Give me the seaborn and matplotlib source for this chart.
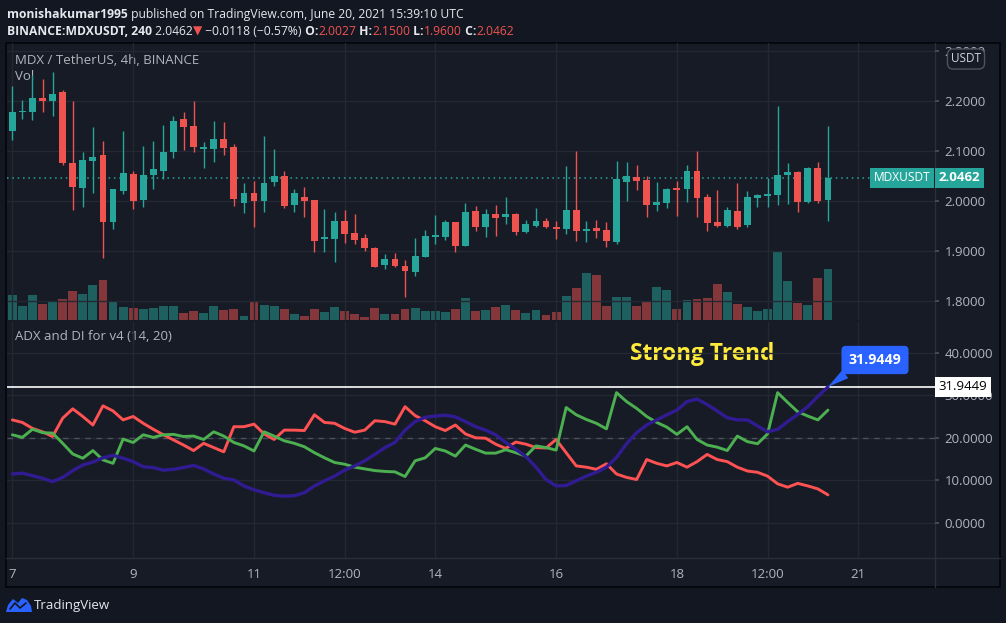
import matplotlib
matplotlib.use("Agg")
import matplotlib.pyplot as plt
from matplotlib.patches import Rectangle, Polygon
import numpy as np
import seaborn as sns

# MDX/USDT 4h candles, starting Jun 7 00:00 UTC
opens = [2.140, 2.177, 2.178, 2.206, 2.200, 2.218, 2.076, 2.026, 2.080, 2.092,
         1.958, 2.020, 2.054, 2.002, 2.052, 2.060, 2.098, 2.164, 2.150, 2.104,
         2.104, 2.124, 2.108, 1.996, 2.016, 2.000, 2.038, 2.050, 1.992, 2.008,
         2.002, 1.924, 1.924, 1.960, 1.936, 1.926, 1.906, 1.872, 1.884, 1.870,
         1.858, 1.888, 1.928, 1.928, 1.958, 1.910, 1.980, 1.948, 1.974, 1.968,
         1.974, 1.938, 1.950, 1.960, 1.948, 1.944, 1.982, 1.940, 1.946, 1.942,
         1.918, 2.038, 2.048, 2.042, 1.992, 1.996, 2.026, 2.024, 2.060, 2.008,
         1.958, 1.950, 1.980, 1.952, 2.006, 2.010, 2.012, 2.052, 2.058, 1.998,
         2.066, 2.0027]
highs = [2.230, 2.202, 2.252, 2.244, 2.259, 2.222, 2.200, 2.098, 2.148, 2.120,
         2.024, 2.140, 2.060, 2.110, 2.120, 2.152, 2.170, 2.178, 2.200, 2.118,
         2.160, 2.158, 2.114, 2.036, 2.040, 2.130, 2.104, 2.060, 2.024, 2.028,
         2.002, 1.984, 1.978, 1.982, 1.974, 1.934, 1.908, 1.894, 1.896, 1.882,
         1.926, 1.942, 1.972, 1.962, 1.958, 1.996, 1.990, 1.984, 1.992, 2.008,
         1.976, 1.962, 1.986, 1.966, 1.960, 2.070, 2.100, 1.960, 1.962, 1.958,
         2.080, 2.078, 2.072, 2.050, 2.038, 2.026, 2.040, 2.072, 2.100, 2.014,
         2.022, 1.988, 2.036, 2.020, 2.014, 2.046, 2.190, 2.076, 2.060, 2.068,
         2.078, 2.150]
lows = [2.122, 2.164, 2.162, 2.178, 2.170, 2.072, 1.982, 1.988, 2.016, 1.886,
        1.944, 2.014, 1.984, 1.988, 2.024, 2.044, 2.086, 2.102, 2.098, 2.066,
        2.078, 2.092, 1.990, 1.976, 1.948, 1.978, 2.030, 1.986, 1.978, 1.968,
        1.898, 1.898, 1.878, 1.916, 1.914, 1.900, 1.868, 1.864, 1.868, 1.808,
        1.850, 1.888, 1.914, 1.922, 1.898, 1.910, 1.940, 1.928, 1.930, 1.954,
        1.932, 1.936, 1.948, 1.946, 1.924, 1.934, 1.920, 1.918, 1.926, 1.908,
        1.914, 2.000, 2.022, 1.968, 1.980, 1.986, 1.970, 1.998, 1.968, 1.940,
        1.948, 1.948, 1.944, 1.948, 1.988, 1.988, 1.992, 1.994, 1.978, 1.996,
        1.996, 1.960]
closes = [2.178, 2.178, 2.206, 2.200, 2.214, 2.076, 2.028, 2.082, 2.088, 1.958,
          2.024, 2.056, 2.000, 2.052, 2.064, 2.098, 2.160, 2.148, 2.108, 2.106,
          2.124, 2.106, 2.004, 2.016, 2.000, 2.036, 2.050, 1.990, 2.016, 2.000,
          1.920, 1.926, 1.960, 1.934, 1.922, 1.906, 1.868, 1.884, 1.870, 1.860,
          1.890, 1.930, 1.932, 1.958, 1.910, 1.978, 1.948, 1.974, 1.966, 1.974,
          1.938, 1.954, 1.960, 1.948, 1.944, 1.982, 1.940, 1.944, 1.940, 1.920,
          2.044, 2.050, 2.040, 1.992, 1.998, 2.024, 2.022, 2.060, 2.006, 1.956,
          1.950, 1.982, 1.948, 2.008, 2.012, 2.014, 2.052, 2.058, 1.998, 2.066,
          2.000, 2.0462]
volumes = [76, 43, 76, 49, 58, 64, 88, 79, 106, 121, 58, 40, 37, 34, 37, 43,
           43, 22, 28, 22, 43, 31, 34, 13, 58, 46, 43, 34, 19, 13, 34, 25,
           40, 28, 19, 10, 37, 19, 19, 34, 37, 28, 28, 25, 34, 67, 28, 31,
           40, 46, 31, 22, 31, 16, 25, 73, 97, 142, 136, 43, 70, 70, 43, 55,
           100, 91, 34, 61, 64, 67, 109, 85, 49, 40, 28, 34, 208, 118, 52, 46,
           127, 154]

# ADX and DI (14, 20)
plus_di = [20.7, 20.1, 22.0, 21.2, 21.1, 18.7, 16.2, 15.2, 17.0, 14.8, 14.0, 19.7,
           18.9, 20.7, 20.1, 20.7, 20.8, 20.3, 20.4, 19.6, 21.4, 20.4, 18.9, 18.1,
           16.9, 21.4, 20.4, 19.3, 18.7, 17.9, 16.5, 15.3, 14.2, 13.8, 13.1, 12.7,
           12.3, 12.1, 12.0, 10.9, 14.6, 15.3, 17.5, 16.9, 15.7, 18.3, 17.3, 16.4,
           16.4, 17.2, 16.5, 15.7, 18.1, 17.7, 17.1, 27.1, 25.4, 24.3, 23.4, 22.1,
           30.6, 28.5, 26.9, 25.0, 23.6, 22.5, 20.8, 22.6, 19.6, 18.3, 17.8, 17.0,
           20.4, 19.1, 18.6, 20.9, 30.6, 28.3, 26.1, 25.1, 24.2, 26.5]
minus_di = [24.2, 23.6, 22.2, 21.4, 20.3, 24.6, 26.8, 25.0, 23.0, 27.5, 26.3, 24.2,
            25.0, 23.4, 22.0, 20.7, 19.5, 18.3, 17.0, 18.7, 17.7, 16.7, 22.6, 22.6,
            23.2, 20.9, 19.6, 21.8, 21.8, 21.7, 25.4, 23.6, 23.4, 22.2, 21.3, 21.8,
            24.0, 23.8, 23.2, 27.3, 25.2, 24.0, 22.6, 21.7, 23.0, 20.9, 20.0, 19.9,
            18.5, 17.5, 19.0, 18.5, 17.7, 17.6, 19.6, 16.5, 13.4, 13.1, 12.6, 13.9,
            11.5, 10.7, 10.2, 14.9, 14.0, 13.4, 14.2, 13.1, 14.4, 16.1, 14.9, 14.4,
            13.1, 12.2, 11.9, 11.0, 9.2, 8.4, 9.3, 8.7, 8.0, 6.6]
adx = [11.5, 11.7, 11.1, 10.5, 9.7, 10.7, 12.3, 13.6, 14.3, 15.3, 15.9, 15.2,
       14.4, 13.2, 13.0, 12.4, 12.6, 13.0, 13.5, 12.7, 11.5, 10.5, 10.1, 8.7,
       7.8, 7.1, 6.5, 6.3, 6.4, 7.1, 8.7, 9.9, 11.0, 12.4, 13.4, 14.6,
       16.1, 17.7, 18.9, 21.8, 23.8, 24.8, 25.1, 25.3, 24.9, 23.8, 22.6, 21.8,
       20.7, 18.9, 17.3, 15.6, 13.1, 10.2, 8.7, 8.8, 9.9, 11.0, 11.9, 13.1,
       15.4, 18.6, 21.2, 23.0, 24.2, 25.4, 26.5, 28.5, 29.1, 27.8, 26.3, 24.7,
       24.2, 24.2, 22.8, 21.4, 22.0, 23.8, 25.5, 27.3, 29.7, 31.9449]

time_ticks = [0, 12, 24, 33, 42, 54, 66, 75, 84]
time_labels = ["7", "9", "11", "12:00", "14", "16", "18", "12:00", "21"]
price_ticks = [1.8, 1.9, 2.0, 2.1, 2.2, 2.3]
adx_ticks = [0, 10, 20, 30, 40]
last_price = 2.0462
adx_level = 31.9449

BG = "#131722"
PANEL = "#171b26"
GRID = "#242833"
TXT = "#b2b5be"
UP = "#26a69a"
DOWN = "#ef5350"

sns.set_theme(style="dark", rc={"axes.facecolor": "none", "figure.facecolor": BG})
plt.rcParams["font.family"] = ["Open Sans", "DejaVu Sans"]

W, H = 1006, 623
fig = plt.figure(figsize=(W / 100, H / 100), dpi=100, facecolor=BG)


def frac(x0, y_top, x1, y_bot):
    return [x0 / W, 1 - y_bot / H, (x1 - x0) / W, (y_bot - y_top) / H]


# background in pixel coordinates
ax_bg = fig.add_axes([0, 0, 1, 1], zorder=0)
ax_bg.set_xlim(0, W)
ax_bg.set_ylim(H, 0)
ax_bg.axis("off")
ax_bg.add_patch(Rectangle((6, 42.5), 994, 544, fc=PANEL, ec="#05070b", lw=1.3))
ax_bg.plot([935, 935], [42.5, 586.5], color="#2a2e39", lw=1)
ax_bg.plot([6, 1000], [558, 558], color="#2a2e39", lw=1)

x = np.arange(len(opens))
o = np.array(opens)
c = np.array(closes)
colors = np.where(c >= o, UP, DOWN)
xlim = (-0.53, 91.63)

# volume pane (behind candles)
ax_v = fig.add_axes(frac(7, 43, 935, 320), zorder=1)
ax_v.bar(x, volumes, width=0.88, color=colors, alpha=0.5, linewidth=0)
ax_v.set_xlim(*xlim)
ax_v.set_ylim(0, 208 * 277 / 69.3)
ax_v.axis("off")

# price pane
ax_p = fig.add_axes(frac(7, 43, 935, 320), zorder=2)
ax_p.set_facecolor("none")
for t in time_ticks:
    ax_p.axvline(t, color=GRID, lw=1, zorder=0)
for p in price_ticks:
    ax_p.axhline(p, color=GRID, lw=1, zorder=0)
ax_p.vlines(x, lows, highs, colors=colors, lw=1, zorder=2)
ax_p.bar(x, np.maximum(np.abs(c - o), 0.003), bottom=np.minimum(o, c),
         width=0.68, color=colors, linewidth=0, zorder=3)
ax_p.axhline(last_price, color=UP, lw=1.1, ls=(0, (1, 2.5)), zorder=1)
ax_p.set_xlim(*xlim)
ax_p.set_ylim(1.762, 2.316)
ax_p.yaxis.tick_right()
ax_p.set_yticks(price_ticks)
ax_p.set_yticklabels([f"{p:.4f}" for p in price_ticks])
ax_p.tick_params(axis="y", length=3, pad=4, color="#4a4e59", labelcolor=TXT, labelsize=9.5)
ax_p.set_xticks([])
for s in ax_p.spines.values():
    s.set_visible(False)

ax_p.annotate(f"{last_price:.4f}", xy=(1, last_price), xycoords=("axes fraction", "data"),
              xytext=(2.5, 0), textcoords="offset points", ha="left", va="center",
              color="white", fontsize=9.5, fontweight="bold", annotation_clip=False,
              bbox=dict(boxstyle="square,pad=0.28", fc=UP, ec="none"))
ax_p.annotate("MDXUSDT", xy=(1, last_price), xycoords=("axes fraction", "data"),
              xytext=(-3.5, 0), textcoords="offset points", ha="right", va="center",
              color="white", fontsize=8.6, annotation_clip=False,
              bbox=dict(boxstyle="square,pad=0.3", fc=UP, ec="none"))

# ADX pane
ax_a = fig.add_axes(frac(7, 322, 935, 558), zorder=2)
ax_a.set_facecolor("none")
for t in time_ticks:
    ax_a.axvline(t, color=GRID, lw=1, zorder=0)
for v in adx_ticks:
    ax_a.axhline(v, color=GRID, lw=1, zorder=0)
ax_a.axhline(20, color="#4c505b", lw=1, ls=(0, (4, 4)), zorder=0.5)
ax_a.axhline(adx_level, color="white", lw=1.2, zorder=1)
sns.lineplot(x=x, y=minus_di, color="#ff5252", lw=2.1, ax=ax_a, zorder=3)
sns.lineplot(x=x, y=plus_di, color="#4caf50", lw=2.1, ax=ax_a, zorder=3)
sns.lineplot(x=x, y=adx, color="#311b92", lw=2.4, ax=ax_a, zorder=4)
ax_a.set_xlim(*xlim)
ax_a.set_ylim(-8.22, 47.18)
ax_a.yaxis.tick_right()
ax_a.set_yticks(adx_ticks)
ax_a.set_yticklabels([f"{v:.4f}" for v in adx_ticks])
ax_a.tick_params(axis="y", length=3, pad=4, color="#4a4e59", labelcolor=TXT, labelsize=9.5)
ax_a.set_xticks(time_ticks)
ax_a.set_xticklabels(time_labels)
ax_a.tick_params(axis="x", length=3, pad=4, color="#4a4e59", labelcolor=TXT, labelsize=9.5)
ax_a.set_xlabel("")
ax_a.set_ylabel("")
for s in ax_a.spines.values():
    s.set_visible(False)

ax_a.annotate(f"{adx_level:.4f}", xy=(1, adx_level), xycoords=("axes fraction", "data"),
              xytext=(2.5, 0), textcoords="offset points", ha="left", va="center",
              color="black", fontsize=9.5, annotation_clip=False,
              bbox=dict(boxstyle="square,pad=0.25", fc="white", ec="none"))
ax_a.annotate(f"{adx_level:.4f}", xy=(x[-1], adx_level), xytext=(875, H - 360),
              textcoords="figure pixels", ha="center", va="center", color="white",
              fontsize=10.3, fontweight="bold", annotation_clip=False, zorder=6,
              bbox=dict(boxstyle="round,pad=0.5,rounding_size=0.3", fc="#2962ff", ec="none"),
              arrowprops=dict(arrowstyle="wedge,tail_width=0.7", fc="#2962ff", ec="none",
                              shrinkA=0, shrinkB=0, relpos=(0.12, 0.0)))

# labels inside the chart
ax_bg.text(15, 60, "MDX / TetherUS, 4h, BINANCE", color=TXT, fontsize=9.5, va="center")
ax_bg.text(15, 77, "Vol", color=TXT, fontsize=9.5, va="center")
ax_bg.text(15, 336, "ADX and DI for v4 (14, 20)", color=TXT, fontsize=9.5, va="center")
ax_bg.text(702, 354, "Strong Trend", color="#ffeb3b", fontsize=16.3, fontweight="bold",
           ha="center", va="center", zorder=5)
fig.text(966 / W, 1 - 59 / H, "USDT", color="#d1d4dc", fontsize=8.5, ha="center", va="center",
         zorder=5, bbox=dict(boxstyle="round,pad=0.3,rounding_size=0.5", fc=PANEL, ec="#50535e"))

# header lines
WHITE = "#e6e8ee"


def chain(parts, x0, y0, size=8.7):
    t = None
    for s, colr, wt in parts:
        if t is None:
            t = ax_bg.annotate(s, xy=(x0, y0), color=colr, fontweight=wt, fontsize=size,
                               va="bottom", ha="left")
        else:
            t = ax_bg.annotate(s, xy=(1, 0), xycoords=t, color=colr, fontweight=wt,
                               fontsize=size, va="bottom", ha="left")


chain([("monishakumar1995", WHITE, "bold"),
       (" published on TradingView.com, June 20, 2021 15:39:10 UTC", WHITE, "normal")], 7, 21)
chain([("BINANCE:MDXUSDT, 240", WHITE, "bold"),
       (" 2.0462", WHITE, "normal"),
       ("\u25bc", DOWN, "normal"),
       (" \u22120.0118 (\u22120.57%)", WHITE, "normal"),
       (" O:", WHITE, "bold"), ("2.0027", DOWN, "normal"),
       (" H:", WHITE, "bold"), ("2.1500", DOWN, "normal"),
       (" L:", WHITE, "bold"), ("1.9600", DOWN, "normal"),
       (" C:", WHITE, "bold"), ("2.0462", DOWN, "normal")], 7, 38)

# TradingView footer
ax_bg.add_patch(Polygon([(6, 612), (8, 605), (13, 599), (18, 603), (22, 598), (27, 600),
                         (31, 606), (32, 612)], closed=True, fc="#2962ff", ec="none"))
ax_bg.plot([10, 15, 20, 26], [609, 603, 608, 603], color=BG, lw=1.2)
ax_bg.text(34, 605, "TradingView", color=WHITE, fontsize=9.5, va="center")

fig.savefig("out.png", dpi=100, facecolor=BG)
